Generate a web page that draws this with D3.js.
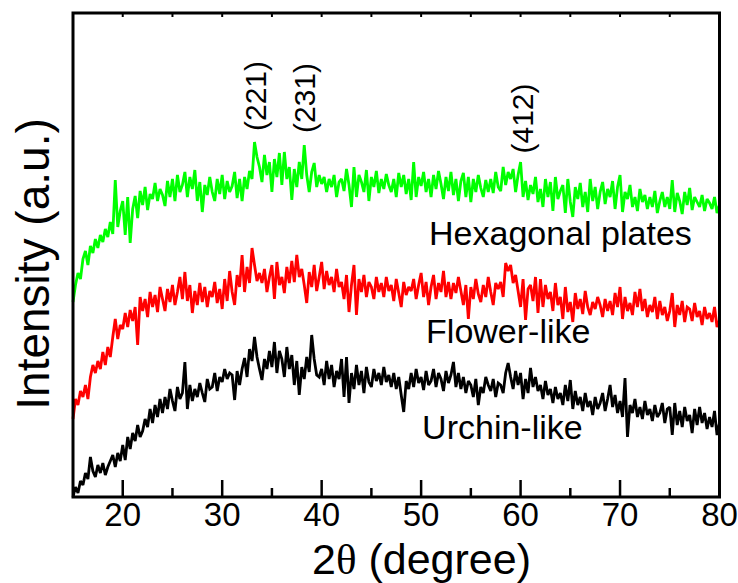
<!DOCTYPE html>
<html>
<head>
<meta charset="utf-8">
<script src="https://cdn.jsdelivr.net/npm/d3@7"></script>
<style>
  html, body { margin: 0; padding: 0; background: #fff; }
  svg { display: block; font-family: "Liberation Sans", Arial, sans-serif; }
</style>
</head>
<body>
<svg id="chart" width="738" height="583"></svg>
<script>
// 2θ scan: 15° to 80° in 0.25° steps
const twoThetaStart = 15;
const twoThetaStep = 0.25;

// Intensities (a.u., stacked) for each morphology
const hexagonalPlates = [
  195, 212, 224, 218,  238, 246, 232, 251,  244, 258, 249, 262,  255, 268, 260, 275,
  263, 317, 270, 286,  296, 262, 300, 254,  288, 301, 279, 306,  292, 310, 287, 303,
  298, 314, 296, 308,  302, 291, 316, 300,  318, 296, 322, 305,  312, 325, 300, 320,
  308, 327, 296, 315,  285, 312, 302, 320,  305, 296, 318, 303,  322, 298, 316, 305,
  311, 325, 299, 318,  296, 320, 308, 326,  318, 355, 340, 330,  315, 342, 322, 335,
  305, 338, 320, 344,  312, 345, 318, 330,  297, 328, 310, 335,  318, 352, 322, 305,
  325, 334, 310, 322,  313, 320, 305, 318,  310, 322, 300, 315,  318, 306, 328, 312,
  290, 330, 300, 322,  315, 305, 327, 296,  320, 310, 326, 304,  318, 308, 323, 312,
  305, 318, 300, 324,  310, 322, 303, 318,  297, 335, 300, 320,  311, 325, 305, 318,
  300, 322, 308, 326,  313, 298, 320, 306,  325, 302, 318, 296,  316, 324, 300, 320,
  295, 318, 305, 322,  309, 300, 317, 305,  318, 304, 325, 310,  306, 330, 312, 325,
  318, 328, 305, 322,  335, 300, 316, 297,  312, 303, 320, 295,  308, 290, 318, 300,
  315, 286, 320, 298,  306, 312, 284, 318,  295, 280, 310, 298,  314, 290, 305, 285,
  318, 296, 310, 288,  305, 315, 293, 308,  300, 316, 288, 310,  322, 285, 305, 298,
  312, 290, 300, 286,  308, 295, 302, 288,  300, 290, 306, 284,  296, 305, 290, 300,
  288, 317, 285, 304,  296, 283, 305, 292,  309, 287, 300, 295,  290, 302, 286, 298,
  294, 288, 300, 284,  292
];

const flowerLike = [
   78,  98,  92, 106,  100, 112,  98, 120,  132, 124, 136, 128,  145, 132, 150, 140,
  160, 178, 158, 172,  168, 184, 170, 187,  176, 190, 152, 200,  186, 198, 180, 205,
  190, 202, 185, 210,  198, 186, 208, 195,  212, 192, 205, 220,  198, 225, 196, 212,
  184, 206, 192, 214,  195, 210, 190, 206,  200, 215, 194, 208,  188, 218, 196, 226,
  205, 192, 222, 210,  242, 205, 230, 214,  249, 232, 216, 224,  214, 228, 205, 220,
  232, 198, 235, 212,  220, 204, 230, 214,  236, 215, 242, 220,  228, 212, 194, 225,
  210, 232, 206, 220,  235, 208, 226, 212,  220, 205, 228, 210,  215, 198, 222, 185,
  212, 232, 182, 218,  205, 222, 200, 215,  210, 198, 220, 205,  214, 200, 220, 206,
  212, 196, 218, 204,  190, 215, 202, 210,  206, 218, 198, 212,  224, 200, 215, 192,
  210, 222, 198, 214,  205, 226, 200, 215,  198, 214, 204, 220,  206, 192, 212, 178,
  210, 198, 218, 203,  195, 212, 200, 220,  205, 192, 214, 208,  215, 200, 234, 226,
  232, 214, 222, 206,  190, 218, 177, 208,  212, 196, 220, 184,  218, 190, 212, 198,
  205, 186, 214, 192,  200, 178, 210, 185,  195, 175, 204, 188,  198, 183, 206, 190,
  182, 195, 188, 200,  192, 180, 198, 186,  196, 182, 204, 190,  210, 178, 200, 186,
  194, 182, 205, 190,  208, 186, 198, 180,  192, 185, 200, 178,  196, 182, 190, 176,
  186, 204, 170, 192,  182, 196, 175, 190,  188, 176, 194, 180,  186, 172, 190, 178,
  184, 175, 190, 170,  177
];

const urchinLike = [
    0,  10,   4,  16,   12,  24,  18,  40,   26,  20,  32,  24,   34,  22,  30,  36,
   42,  30,  44,  36,   52,  37,  60,  48,   64,  56,  72,  60,   66,  78,  70,  88,
   74,  92,  80,  98,   84, 100,  88, 108,   96,  86, 110,  98,  104, 135,  88, 112,
   96, 108, 100, 114,  104,  95, 118, 108,  110, 124, 106, 120,  115, 128, 118, 124,
  122,  97, 126, 112,  128, 139, 120, 148,  136, 160, 140, 128,  117, 138, 128, 146,
  130, 155, 124, 146,  138, 120, 150, 128,  142, 112, 136, 102,  130, 118, 140, 125,
  162, 138, 122, 120,  128, 112, 136, 118,  132, 110, 126, 118,  138, 100, 140,  94,
  124, 108, 132, 112,  126, 104, 130, 115,  110, 128, 116, 124,  112, 130, 115, 122,
  110, 124, 108, 120,  102,  85, 116, 108,  124, 110, 128, 114,  120, 107, 126, 112,
  116, 128, 110, 124,  118, 106, 126, 114,  122, 135, 110, 124,  108, 120, 104, 116,
  112, 100, 118,  92,  110, 104, 120, 112,  106, 118, 100, 114,  112, 104, 124, 134,
  120, 108, 126, 112,  124,  98, 118, 104,  129, 110, 120, 106,  112,  98, 116, 102,
  108,  94, 110,  98,  104,  92, 112,  96,  117,  88, 106,  92,  100,  86, 104,  90,
   96,  82, 100,  88,   94, 104,  86,  98,  112,  90, 102,  84,   96,  80, 119,  60,
   92,  84,  98,  80,   90,  78,  96,  82,   88,  76,  92,  80,   84,  94,  74,  88,
   90,  62,  94,  72,   86,  70,  90,  76,   82,  64,  88,  72,   90,  74,  84,  68,
   80,  70,  86,  62,   74
];

const seriesNames = ["Hexagonal plates", "Flower-like", "Urchin-like"];
const seriesColors = ["#00ff00", "#ff0000", "#000000"];
const seriesData = [hexagonalPlates, flowerLike, urchinLike];

// Sample label anchors: [2θ, intensity]
const labelAnchors = [[50.8, 252], [50.5, 154], [50.1, 58]];

// Miller indices of the marked reflections: [label, 2θ, intensity at label centre]
const reflections = [["(221)", 33.4, 401], ["(231)", 38.3, 399], ["(412)", 60.2, 378.5]];

const xMajorTicks = [20, 30, 40, 50, 60, 70, 80];
const xMinorTicks = [25, 35, 45, 55, 65, 75];
const xTopTicks = [20, 25, 30, 35, 40, 45, 50, 55, 60, 65, 70, 75];

const svg = d3.select("#chart");
const x = d3.scaleLinear().domain([15, 80]).range([73, 719.5]);
const y = d3.scaleLinear().domain([0, 485]).range([497, 12]);

const toPoints = arr => arr.map((v, i) => [twoThetaStart + i * twoThetaStep, v]);
const line = d3.line().x(d => x(d[0])).y(d => y(d[1]));

// Traces
seriesData.forEach((arr, k) => {
  svg.append("path")
    .datum(toPoints(arr))
    .attr("d", line)
    .attr("fill", "none")
    .attr("stroke", seriesColors[k])
    .attr("stroke-width", 2.8)
    .attr("stroke-linejoin", "miter")
    .attr("stroke-miterlimit", 2);
});

// Bottom axis with inward ticks
const bottom = svg.append("g").attr("transform", `translate(0,${y(0)})`);
bottom.selectAll("line.major").data(xMajorTicks).join("line")
  .attr("x1", d => x(d)).attr("x2", d => x(d))
  .attr("y1", 0).attr("y2", -17)
  .attr("stroke", "#000").attr("stroke-width", 2.5);
bottom.selectAll("line.minor").data(xMinorTicks).join("line")
  .attr("x1", d => x(d)).attr("x2", d => x(d))
  .attr("y1", 0).attr("y2", -9)
  .attr("stroke", "#000").attr("stroke-width", 2.5);
bottom.selectAll("text").data(xMajorTicks).join("text")
  .attr("x", d => x(d)).attr("y", 29)
  .attr("text-anchor", "middle")
  .attr("font-size", 33)
  .text(d => d);

// Top edge small ticks
svg.append("g").selectAll("line").data(xTopTicks).join("line")
  .attr("x1", d => x(d)).attr("x2", d => x(d))
  .attr("y1", y(485)).attr("y2", y(485) + 5)
  .attr("stroke", "#000").attr("stroke-width", 2);

// Frame
svg.append("rect")
  .attr("x", x(15)).attr("y", y(485) + 1)
  .attr("width", x(80) - x(15)).attr("height", y(0) - y(485) - 1)
  .attr("fill", "none").attr("stroke", "#000").attr("stroke-width", 3);

// Axis titles
const xt = svg.append("text")
  .attr("x", 421.5).attr("y", 573.5)
  .attr("text-anchor", "middle")
  .attr("font-size", 43);
xt.append("tspan").text("2");
xt.append("tspan").attr("font-family", "Liberation Serif, serif").text("θ");
xt.append("tspan").text(" (degree)");

svg.append("text")
  .attr("transform", "translate(49,264) rotate(-90)")
  .attr("text-anchor", "middle")
  .attr("font-size", 46)
  .text("Intensity (a.u.)");

// Sample labels
svg.append("g").selectAll("text").data(seriesNames).join("text")
  .attr("x", (d, i) => x(labelAnchors[i][0]))
  .attr("y", (d, i) => y(labelAnchors[i][1]))
  .attr("font-size", 34)
  .text(d => d);

// Reflection indices
svg.append("g").selectAll("text").data(reflections).join("text")
  .attr("transform", d => `translate(${x(d[1]) + 10},${y(d[2])}) rotate(-90)`)
  .attr("text-anchor", "middle")
  .attr("font-size", 30)
  .text(d => d[0]);
</script>
</body>
</html>
